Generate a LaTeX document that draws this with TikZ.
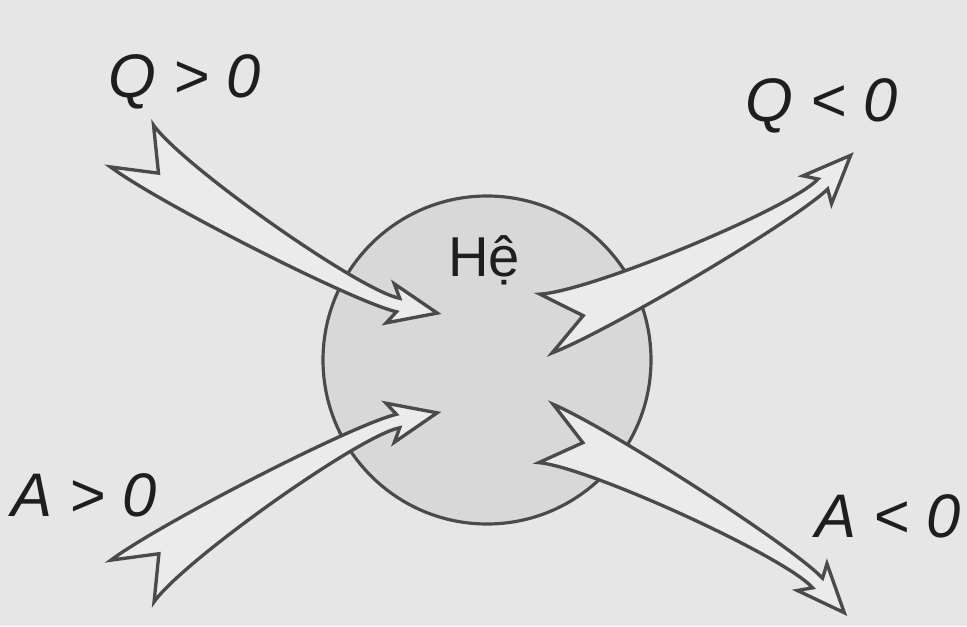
\documentclass[tikz,border=0pt]{standalone}
\usepackage{fontspec}
\setmainfont{Liberation Sans}
\usepackage{tikz}
\usetikzlibrary{calc}

\definecolor{bggray}{HTML}{E6E6E6}
\definecolor{sysgray}{HTML}{D8D8D8}
\definecolor{edgegray}{HTML}{4A4A4A}
\definecolor{arrowfill}{HTML}{EBEBEB}
\definecolor{textgray}{HTML}{1E1E1E}

\tikzset{
	arrowline/.style={draw=edgegray, fill=arrowfill, line width=1.9pt, line join=miter},
	system/.style={circle, draw=edgegray, fill=sysgray, line width=1.8pt, minimum size=328*0.02cm, inner sep=0pt},
	lbl/.style={text=textgray, font=\fontsize{35}{40}\selectfont\itshape, inner sep=0pt, anchor=base},
	% swallow-tailed arrow, tail at the origin, tip at (348,0)
	heatarrow/.pic={
		\draw[arrowline] (8.8,28.7) .. controls (53.8,6.8) and (269.8,-17.7) .. (308,-5)
			-- (296.3,5.1) -- (348,0) -- (307.9,-33.1) -- (311.6,-18.4)
			.. controls (268.6,-30.5) and (50.6,-37.0) .. (-8.8,-28.7)
			-- (36.3,-11.1) -- cycle;
	}
}

\begin{document}
\begin{tikzpicture}[x=0.02cm, y=0.02cm]
			
			\fill[bggray] (0,0) rectangle (967,626);
			\useasboundingbox (0,0) rectangle (967,626);
			
			\node[system] (sys) at (487,266) {};
			
			\coordinate (qintail) at (132,480);
			\coordinate (qouttail) at (546,302.5);
			\coordinate (aintail) at (132.5,45);
			\coordinate (aouttail) at (546,192.5);
			
			\pic[rotate=-28.7] at (qintail) {heatarrow};
			\pic[rotate=28.9] at (qouttail) {heatarrow};
			\pic[rotate=28.9, yscale=-1] at (aintail) {heatarrow};
			\pic[rotate=-31, yscale=-1] at (aouttail) {heatarrow};
			
			\node[text=textgray, font=\fontsize{32}{36}\selectfont, inner sep=0pt, anchor=base] (he) at (484,349) {Hệ};
			
			\node[lbl] (qin) at (185,528) {Q > 0};
			\node[lbl] (qout) at (822,504) {Q < 0};
			\node[lbl] (ain) at (84,110) {A > 0};
			\node[lbl] (aout) at (888,89) {A < 0};
			%\draw[dashed] (sys.center) -- (he);
			
\end{tikzpicture}
\end{document}
